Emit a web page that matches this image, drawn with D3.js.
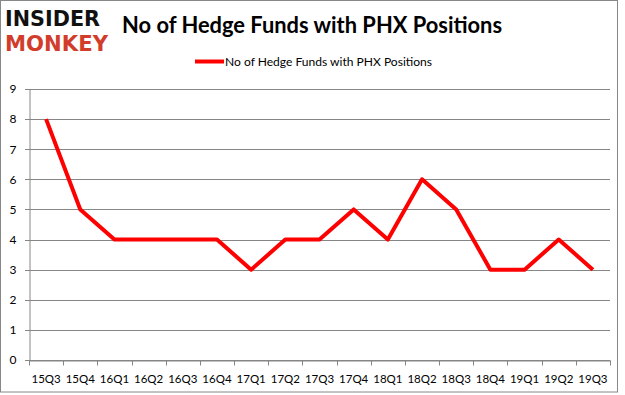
<!DOCTYPE html>
<html><head><meta charset="utf-8">
<script src="https://cdn.jsdelivr.net/npm/d3@7"></script>
<style>body{margin:0;background:#fff}svg{display:block}</style>
</head><body>
<script>
const categories = ["15Q3","15Q4","16Q1","16Q2","16Q3","16Q4","17Q1","17Q2","17Q3","17Q4","18Q1","18Q2","18Q3","18Q4","19Q1","19Q2","19Q3"];
const values = [8,5,4,4,4,4,3,4,4,5,4,6,5,3,3,4,3];
const yTicks = [0,1,2,3,4,5,6,7,8,9];
const seriesName = "No of Hedge Funds with PHX Positions";
const titleText = "No of Hedge Funds with PHX Positions";

const W = 625, H = 395;
const svg = d3.select("body").append("svg").attr("width", W).attr("height", H);
svg.append("rect").attr("x",0.5).attr("y",0.5).attr("width",617).attr("height",391.5)
  .attr("fill","#fff").attr("stroke","#888").attr("stroke-width",1);

const x = d3.scaleBand().domain(categories).range([29, 610]);
const y = d3.scaleLinear().domain([0, 9]).range([360, 89]);

// gridlines
svg.append("g").selectAll("line").data(yTicks).join("line")
  .attr("x1", 25).attr("x2", 610)
  .attr("y1", d => Math.round(y(d)) + 0.5).attr("y2", d => Math.round(y(d)) + 0.5)
  .attr("stroke", "#868686").attr("stroke-width", 1);

// y axis
const yAx = svg.append("g").attr("transform","translate(29.5,0)")
  .call(d3.axisLeft(y).tickValues(yTicks).tickSize(0).tickPadding(13));
yAx.select(".domain").attr("stroke","#868686");
yAx.selectAll("text").attr("font-family","Lato, 'Open Sans', sans-serif").attr("font-size",12).attr("fill","#000");

// x axis
const xAx = svg.append("g").attr("transform","translate(0,360.5)")
  .call(d3.axisBottom(x).tickSize(0).tickPadding(14));
xAx.select(".domain").attr("stroke","#868686");
xAx.selectAll("text").attr("font-family","Lato, 'Open Sans', sans-serif").attr("font-size",11.5).attr("fill","#000");
// boundary ticks
const bounds = categories.map(c => x(c)).concat([x.range()[1]]);
xAx.append("g").selectAll("line").data(bounds).join("line")
  .attr("x1", d => Math.round(d)+0.5).attr("x2", d => Math.round(d)+0.5)
  .attr("y1", 0).attr("y2", 5).attr("stroke","#868686");

// line
const line = d3.line().x((d,i) => x(categories[i]) + x.bandwidth()/2).y(d => y(d));
svg.append("path").datum(values).attr("d", line)
  .attr("fill","none").attr("stroke","#ff0000").attr("stroke-width",4).attr("stroke-linejoin","round");

// title
svg.append("text").attr("x",122).attr("y",33).text(titleText)
  .attr("font-family","Lato, 'Open Sans', sans-serif").attr("font-weight","bold").attr("font-size",22)
  .attr("textLength",380).attr("lengthAdjust","spacingAndGlyphs").attr("fill","#000");

// legend
svg.append("line").attr("x1",195).attr("x2",224).attr("y1",61.5).attr("y2",61.5)
  .attr("stroke","#ff0000").attr("stroke-width",4);
svg.append("text").attr("x",225).attr("y",66).text(seriesName)
  .attr("font-family","Lato, 'Open Sans', sans-serif").attr("font-size",12)
  .attr("textLength",207).attr("lengthAdjust","spacingAndGlyphs").attr("fill","#000");

// logo
svg.append("text").attr("x",5).attr("y",26).text("INSIDER")
  .attr("font-family","'DejaVu Sans', sans-serif").attr("font-weight","bold").attr("font-size",21)
  .attr("textLength",95).attr("lengthAdjust","spacingAndGlyphs").attr("fill","#111");
svg.append("text").attr("x",5).attr("y",51).text("MONKEY")
  .attr("font-family","'DejaVu Sans', sans-serif").attr("font-weight","bold").attr("font-size",21)
  .attr("textLength",103).attr("lengthAdjust","spacingAndGlyphs").attr("fill","#d23c2a");
</script>
</body></html>
